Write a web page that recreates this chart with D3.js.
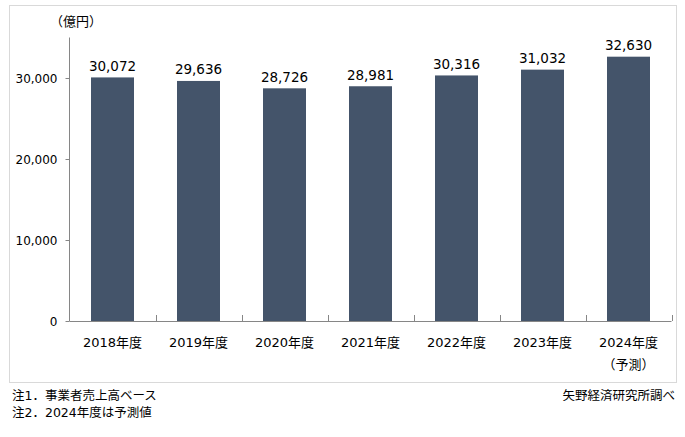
<!DOCTYPE html>
<html><head><meta charset="utf-8">
<script src="https://cdn.jsdelivr.net/npm/d3@7/dist/d3.min.js"></script>
<style>
html,body{margin:0;padding:0;background:#fff;}
text{font-family:"DejaVu Sans","Noto Sans CJK JP",sans-serif;fill:#000;}
</style></head>
<body><svg id="c" width="685" height="437"></svg>
<script>
const categories = ["2018年度","2019年度","2020年度","2021年度","2022年度","2023年度","2024年度"];
const subLabels = ["","","","","","","（予測）"];
const values = [30072, 29636, 28726, 28981, 30316, 31032, 32630];
const yTicks = [0, 10000, 20000, 30000];
const unitLabel = "（億円）";
const notes = ["注1．事業者売上高ベース", "注2．2024年度は予測値"];
const source = "矢野経済研究所調べ";

const svg = d3.select("#c");
const fmt = d3.format(",");
const pL = 69.5, pR = 671.5, pT = 37.5, pB = 321;

// outer frame
svg.append("rect").attr("x",9.5).attr("y",5.5).attr("width",667).attr("height",377)
  .attr("fill","none").attr("stroke","#d9d9d9").attr("stroke-width",1);

const x = d3.scaleBand().domain(categories).range([pL, pR]).paddingInner(0.5).paddingOuter(0.25);
const y = d3.scaleLinear().domain([0, 35000]).range([pB, pT]);

// bars
svg.selectAll("rect.bar").data(values).enter().append("rect").attr("class","bar")
  .attr("x",(d,i)=>x(categories[i])).attr("width",x.bandwidth())
  .attr("y",d=>y(d)).attr("height",d=>y(0)-y(d)).attr("fill","#44546a");

// y axis
const yAxis = d3.axisLeft(y).tickValues(yTicks).tickFormat(fmt).tickSize(4).tickPadding(8);
const gy = svg.append("g").attr("transform",`translate(${pL},0)`).call(yAxis);
gy.select(".domain").attr("stroke","#868686").attr("d",`M0,${pT}V${pB}`);
gy.selectAll(".tick line").attr("stroke","#868686");
gy.selectAll(".tick text").style("font-size","12px").attr("dy","0.35em");

// x axis line with inward boundary ticks
svg.append("line").attr("x1",pL).attr("x2",pR).attr("y1",pB+0.5).attr("y2",pB+0.5)
  .attr("stroke","#868686");
const step = x.step();
categories.forEach((c,i)=>{
  const bx = Math.round(x(c) - step*0.25 + step) + 0.5;
  svg.append("line").attr("x1",bx).attr("x2",bx).attr("y1",pB-6).attr("y2",pB)
    .attr("stroke","#868686");
});

// category labels
svg.selectAll("text.cat").data(categories).enter().append("text").attr("class","cat")
  .attr("x",d=>x(d)+x.bandwidth()/2).attr("y",347).attr("text-anchor","middle")
  .style("font-size","13px").text(d=>d);
svg.selectAll("text.sub").data(subLabels).enter().append("text").attr("class","sub")
  .attr("x",(d,i)=>x(categories[i])+x.bandwidth()/2).attr("y",369).attr("text-anchor","middle")
  .style("font-size","13px").text(d=>d);

// value labels
svg.selectAll("text.val").data(values).enter().append("text").attr("class","val")
  .attr("x",(d,i)=>x(categories[i])+x.bandwidth()/2).attr("y",d=>y(d)-6.5)
  .attr("text-anchor","middle").style("font-size","13.5px").text(d=>fmt(d));

// unit
svg.append("text").attr("x",50).attr("y",26).style("font-size","13px").text(unitLabel);

// notes
notes.forEach((n,i)=>svg.append("text").attr("x",12).attr("y",400+i*17)
  .style("font-size","12.5px").text(n));
svg.append("text").attr("x",675).attr("y",400).attr("text-anchor","end")
  .style("font-size","12.5px").text(source);
</script></body></html>
